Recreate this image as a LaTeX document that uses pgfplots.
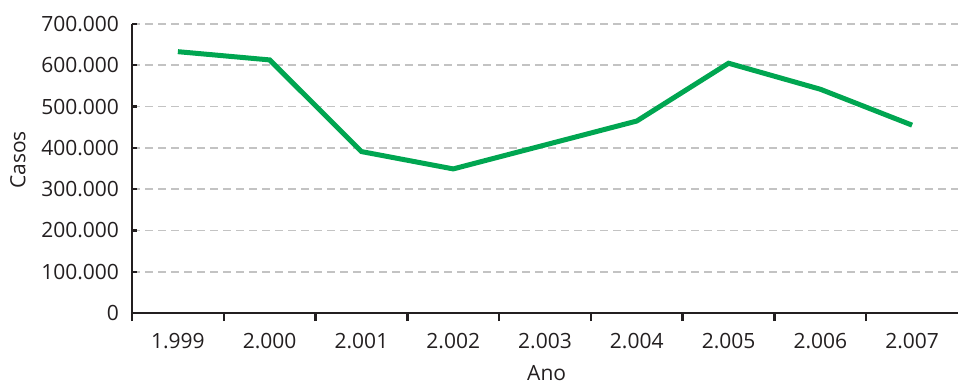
\documentclass[border=0pt]{standalone}
\usepackage{fontspec}
\setmainfont{Open Sans}
\usepackage{pgfplots}
\pgfplotsset{compat=1.18}
\definecolor{lgreen}{RGB}{0,166,81}
\definecolor{gridgray}{RGB}{195,195,195}
\definecolor{txt}{RGB}{35,31,32}
\begin{document}
\begin{tikzpicture}
\begin{axis}[
  scale only axis, width=413pt, height=144.5pt,
  xmin=-0.5, xmax=8.5, ymin=0, ymax=700000,
  axis x line*=bottom, axis y line*=left,
  axis line style={txt, line width=0.9pt},
  font=\fontsize{10.5}{12}\selectfont,
  tick align=inside, major tick length=2.5pt,
  tick style={txt, line width=1.2pt},
  xtick={0,...,8},
  xticklabels={1.999,2.000,2.001,2.002,2.003,2.004,2.005,2.006,2.007},
  xtick style={draw=none},
  extra x ticks={-0.5,0.5,1.5,2.5,3.5,4.5,5.5,6.5,7.5},
  extra x tick labels={},
  extra x tick style={xtick style={draw=txt, line width=1.2pt}, tick align=outside, major tick length=4pt},
  ytick={0,100000,200000,300000,400000,500000,600000,700000},
  yticklabels={0,100.000,200.000,300.000,400.000,500.000,600.000,700.000},
  scaled y ticks=false,
  ymajorgrids,
  grid style={gridgray, line width=0.8pt, dash pattern=on 4pt off 2.5pt},
  xticklabel style={anchor=center, yshift=-14pt, text=txt},
  yticklabel style={anchor=east, xshift=-3pt, text=txt},
  xlabel={Ano}, ylabel={Casos},
  every axis x label/.style={at={(rel axis cs:0.502,0)}, anchor=center, yshift=-30pt, text=txt},
  every axis y label/.style={at={(rel axis cs:0,0.53)}, xshift=-57pt, anchor=center, rotate=90, text=txt},
]
\addplot[lgreen, line width=2.5pt] coordinates {
  (0,633000) (1,613000) (2,391000) (3,349000) (4,407000)
  (5,465000) (6,605000) (7,542000) (8,455000)
};
\coordinate (bl) at (rel axis cs:0,0);
\coordinate (tr) at (rel axis cs:1,1);
\end{axis}
\pgfresetboundingbox
\path ([shift={(-66pt,-36pt)}]bl) rectangle ([yshift=12pt]tr);
\end{tikzpicture}
\end{document}
